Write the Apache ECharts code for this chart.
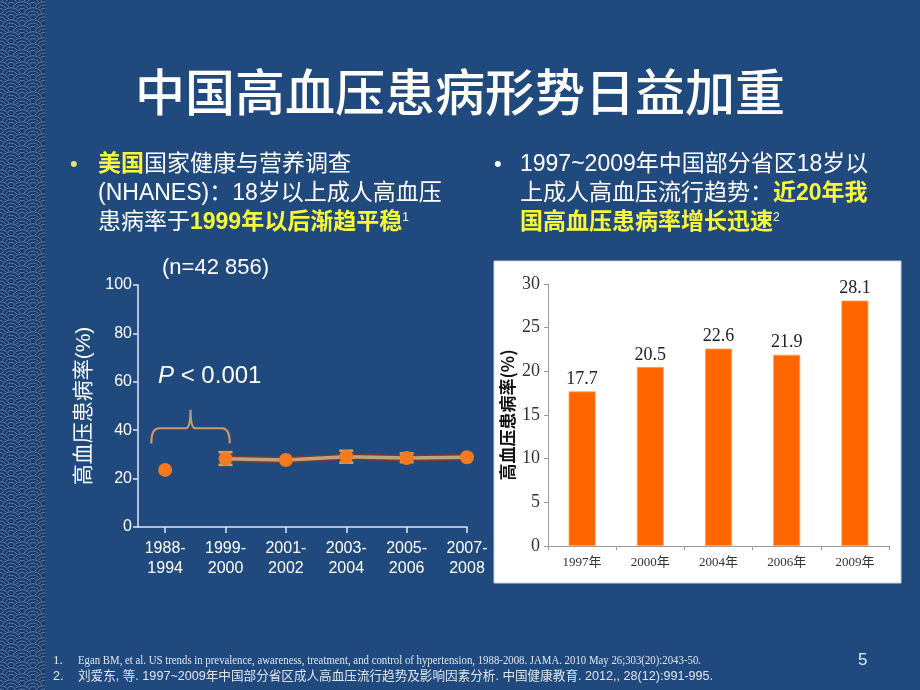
<!DOCTYPE html>
<html><head><meta charset="utf-8">
<script src="https://cdn.jsdelivr.net/npm/echarts@6/dist/echarts.min.js"></script>
<style>html,body{margin:0;padding:0;background:#20497e}#c{width:920px;height:690px}</style>
</head><body><div id="c"></div>
<script>
// ---------- data ----------
const usCategories = ['1988-\n1994','1999-\n2000','2001-\n2002','2003-\n2004','2005-\n2006','2007-\n2008'];
const usPrevalence = [23.6, 28.2, 27.7, 29.0, 28.5, 28.8];
const usErrLow  = [null, 25.7, null, 26.6, 26.8, null];
const usErrHigh = [null, 30.9, null, 31.5, 30.4, null];
const braceSpan = [-0.23, 1.07];      // category index range covered by the brace
const braceLevel = [34.5, 40.8, 48.5]; // end, bar, peak (in % units)

const cnYears = ['1997年','2000年','2004年','2006年','2009年'];
const cnPrevalence = [17.7, 20.5, 22.6, 21.9, 28.1];

// ---------- styles ----------
const SANS = "'Liberation Sans','Noto Sans CJK SC',sans-serif";
const SERIF = "'Liberation Serif','Noto Sans CJK SC',serif";
const CJK = "'Noto Sans CJK SC',sans-serif";
const YELLOW = '#f7f73c';

function makeWave(w, h) {
  const c = document.createElement('canvas'); c.width = w; c.height = h;
  const g = c.getContext('2d');
  g.fillStyle = '#1b3a68'; g.fillRect(0, 0, w, h);
  const r = 11, dy = 6, dx = 22;
  for (let row = -2; row * dy < h + r; row++) {
    const off = (Math.abs(row) % 2) ? r : 0;
    for (let cx = -dx + off; cx < w + dx; cx += dx) {
      const cy = row * dy;
      g.beginPath(); g.arc(cx, cy, r, 0, Math.PI * 2); g.fillStyle = '#1b3a68'; g.fill();
      g.strokeStyle = '#5a7dad'; g.lineWidth = 1;
      for (const rr of [r - 0.7, r - 4, r - 7.3]) { g.beginPath(); g.arc(cx, cy, rr, 0, Math.PI * 2); g.stroke(); }
    }
  }
  return c;
}

const chart = echarts.init(document.getElementById('c'), null, {renderer: 'canvas'});

const usIdx = usPrevalence.map((v, i) => i);
const scatterData = usPrevalence.map((v, i) => [i, v]);
const lineData = scatterData.slice(1);
const errData = [];
usPrevalence.forEach((v, i) => { if (usErrLow[i] != null) errData.push([i, usErrLow[i], usErrHigh[i]]); });

const option = {
  backgroundColor: '#20497e',
  animation: false,
  graphic: [
    {type: 'image', left: 0, top: 0, z: -10, style: {image: makeWave(45, 690), x: 0, y: 0, width: 45, height: 690}},
    {type: 'rect', z: -5, shape: {x: 494, y: 261, width: 407, height: 322}, style: {fill: '#ffffff', stroke: '#c9d2df', lineWidth: 1}},
    {type: 'text', z: 10, style: {x: 460, y: 92, text: '中国高血压患病形势日益加重', fill: '#ffffff', font: '500 50px ' + CJK, textAlign: 'center', textVerticalAlign: 'middle'}},
    // left bullet
    {type: 'text', style: {x: 70, y: 165, text: '•', fill: '#e6e27a', font: '22px ' + SANS, textVerticalAlign: 'middle'}},
    {type: 'text', style: {x: 98, y: 165, text: '{y|美国}国家健康与营养调查', fill: '#ffffff', font: '23px ' + SANS, textVerticalAlign: 'middle',
      rich: {y: {fill: YELLOW, fontWeight: 'bold', fontSize: 23, fontFamily: SANS}}}},
    {type: 'text', style: {x: 98, y: 194, text: '(NHANES)：18岁以上成人高血压', fill: '#ffffff', font: '23px ' + SANS, textVerticalAlign: 'middle'}},
    {type: 'text', style: {x: 98, y: 223, text: '患病率于{y|1999年以后渐趋平稳}{s|1}', fill: '#ffffff', font: '23px ' + SANS, textVerticalAlign: 'middle',
      rich: {y: {fill: YELLOW, fontWeight: 'bold', fontSize: 23, fontFamily: SANS}, s: {fill: '#ffffff', fontSize: 12, fontFamily: SANS, verticalAlign: 'top'}}}},
    // right bullet
    {type: 'text', style: {x: 494, y: 165, text: '•', fill: '#ffffff', font: '22px ' + SANS, textVerticalAlign: 'middle'}},
    {type: 'text', style: {x: 520, y: 165, text: '1997~2009年中国部分省区18岁以', fill: '#ffffff', font: '23px ' + SANS, textVerticalAlign: 'middle'}},
    {type: 'text', style: {x: 520, y: 194, text: '上成人高血压流行趋势：{y|近20年我}', fill: '#ffffff', font: '23px ' + SANS, textVerticalAlign: 'middle',
      rich: {y: {fill: YELLOW, fontWeight: 'bold', fontSize: 23, fontFamily: SANS}}}},
    {type: 'text', style: {x: 520, y: 223, text: '{y|国高血压患病率增长迅速}{s|2}', fill: '#ffffff', font: '23px ' + SANS, textVerticalAlign: 'middle',
      rich: {y: {fill: YELLOW, fontWeight: 'bold', fontSize: 23, fontFamily: SANS}, s: {fill: '#ffffff', fontSize: 12, fontFamily: SANS, verticalAlign: 'top'}}}},
    // annotations left chart
    {type: 'text', style: {x: 162, y: 268, text: '(n=42 856)', fill: '#ffffff', font: '22px ' + SANS, textVerticalAlign: 'middle'}},
    {type: 'text', style: {x: 158, y: 376, text: '{i|P} < 0.001', fill: '#ffffff', font: '24px ' + SANS, textVerticalAlign: 'middle',
      rich: {i: {fontStyle: 'italic', fontSize: 24, fontFamily: SANS, fill: '#ffffff'}}}},
    // footnotes
    {type: 'text', x: 53, y: 661, style: {x: 0, y: 0, text: '1.', fill: '#dfe5ee', font: '13px ' + SERIF, textVerticalAlign: 'middle'}},
    {type: 'text', x: 78, y: 661, scaleX: 0.83, style: {x: 0, y: 0, text: 'Egan BM, et al. US trends in prevalence, awareness, treatment, and control of hypertension, 1988-2008. JAMA. 2010 May 26;303(20):2043-50.', fill: '#dfe5ee', font: '13px ' + SERIF, textVerticalAlign: 'middle'}},
    {type: 'text', x: 53, y: 677, style: {x: 0, y: 0, text: '2.', fill: '#dfe5ee', font: '12.5px ' + SANS, textVerticalAlign: 'middle'}},
    {type: 'text', x: 78, y: 677, style: {x: 0, y: 0, text: '刘爱东, 等. 1997~2009年中国部分省区成人高血压流行趋势及影响因素分析. 中国健康教育. 2012,, 28(12):991-995.', fill: '#dfe5ee', font: '12.6px ' + SANS, textVerticalAlign: 'middle'}},
    {type: 'text', x: 858, y: 660, style: {x: 0, y: 0, text: '5', fill: '#e8edf4', font: '17px ' + SANS, textVerticalAlign: 'middle'}}
  ],
  grid: [
    {left: 138, top: 285, width: 329, height: 242},
    {left: 548, top: 284, width: 341, height: 262}
  ],
  xAxis: [
    {gridIndex: 0, type: 'value', min: -0.45, max: 5,
      axisLine: {show: true, onZero: false, lineStyle: {color: '#dfe6f0', width: 1.5}},
      axisTick: {show: true, customValues: usIdx, length: 6, lineStyle: {color: '#dfe6f0', width: 1.5}},
      axisLabel: {customValues: usIdx, formatter: v => usCategories[Math.round(v)], color: '#ffffff', fontSize: 16, fontFamily: SANS, lineHeight: 20, margin: 12},
      splitLine: {show: false}},
    {gridIndex: 1, type: 'category', data: cnYears,
      axisLine: {lineStyle: {color: '#9a9a9a', width: 1}},
      axisTick: {show: true, length: 4, alignWithLabel: false, lineStyle: {color: '#9a9a9a'}},
      axisLabel: {color: '#333333', fontSize: 13, fontFamily: SERIF, margin: 10}}
  ],
  yAxis: [
    {gridIndex: 0, type: 'value', min: 0, max: 100, interval: 20,
      name: '高血压患病率(%)', nameLocation: 'middle', nameGap: 43,
      nameTextStyle: {color: '#ffffff', fontSize: 21, fontFamily: SANS},
      axisLine: {show: true, onZero: false, lineStyle: {color: '#dfe6f0', width: 1.5}},
      axisTick: {show: true, length: 5, lineStyle: {color: '#dfe6f0', width: 1.5}},
      axisLabel: {color: '#ffffff', fontSize: 16, fontFamily: SANS, margin: 6},
      splitLine: {show: false}},
    {gridIndex: 1, type: 'value', min: 0, max: 30, interval: 5,
      name: '高血压患病率(%)', nameLocation: 'middle', nameGap: 32,
      nameTextStyle: {color: '#111111', fontSize: 17, fontWeight: 'bold', fontFamily: CJK},
      axisLine: {show: true, lineStyle: {color: '#9a9a9a', width: 1}},
      axisTick: {show: true, length: 4, lineStyle: {color: '#9a9a9a'}},
      axisLabel: {color: '#333333', fontSize: 18, fontFamily: SERIF, margin: 8},
      splitLine: {show: false}}
  ],
  series: [
    {type: 'custom', xAxisIndex: 0, yAxisIndex: 0, z: 3, silent: true,
      data: [[braceSpan[0], braceSpan[1], braceLevel[0], braceLevel[1], braceLevel[2]]],
      renderItem: (params, api) => {
        const l = api.coord([api.value(0), api.value(2)]);
        const r = api.coord([api.value(1), api.value(2)]);
        const yh = api.coord([0, api.value(3)])[1];
        const yp = api.coord([0, api.value(4)])[1];
        const xm = (l[0] + r[0]) / 2;
        const d = `M${l[0]},${l[1]} Q${l[0]},${yh} ${l[0] + 8},${yh} L${xm - 5},${yh} Q${xm},${yh} ${xm},${yp} Q${xm},${yh} ${xm + 5},${yh} L${r[0] - 8},${yh} Q${r[0]},${yh} ${r[0]},${r[1]}`;
        return {type: 'path', shape: {pathData: d}, style: {stroke: '#c89a64', fill: 'none', lineWidth: 2.2}};
      }},
    {type: 'line', xAxisIndex: 0, yAxisIndex: 0, data: lineData, symbol: 'none', z: 3,
      lineStyle: {color: '#7e3a30', width: 6.5}},
    {type: 'line', xAxisIndex: 0, yAxisIndex: 0, data: lineData, symbol: 'none', z: 4,
      lineStyle: {color: '#b9a57f', width: 3.6}},
    {type: 'custom', xAxisIndex: 0, yAxisIndex: 0, z: 5, data: errData,
      renderItem: (params, api) => {
        const x = api.value(0);
        const lo = api.coord([x, api.value(1)]);
        const hi = api.coord([x, api.value(2)]);
        const w = 7;
        const st = {stroke: '#d9a066', lineWidth: 2.6};
        return {type: 'group', children: [
          {type: 'line', shape: {x1: lo[0], y1: lo[1], x2: hi[0], y2: hi[1]}, style: st},
          {type: 'line', shape: {x1: lo[0] - w, y1: lo[1], x2: lo[0] + w, y2: lo[1]}, style: st},
          {type: 'line', shape: {x1: hi[0] - w, y1: hi[1], x2: hi[0] + w, y2: hi[1]}, style: st}
        ]};
      }},
    {type: 'scatter', xAxisIndex: 0, yAxisIndex: 0, data: scatterData, z: 6,
      symbol: 'circle', symbolSize: 14, itemStyle: {color: '#f47a1f', opacity: 1}},
    {type: 'bar', xAxisIndex: 1, yAxisIndex: 1, data: cnPrevalence, barWidth: 27,
      itemStyle: {color: '#ff6600', borderColor: '#ffa35c', borderWidth: 0.8},
      label: {show: true, position: 'top', distance: 3, color: '#222222', fontSize: 18, fontFamily: SERIF,
        formatter: p => p.value.toFixed(1)}}
  ]
};
chart.setOption(option);
</script>
</body></html>
